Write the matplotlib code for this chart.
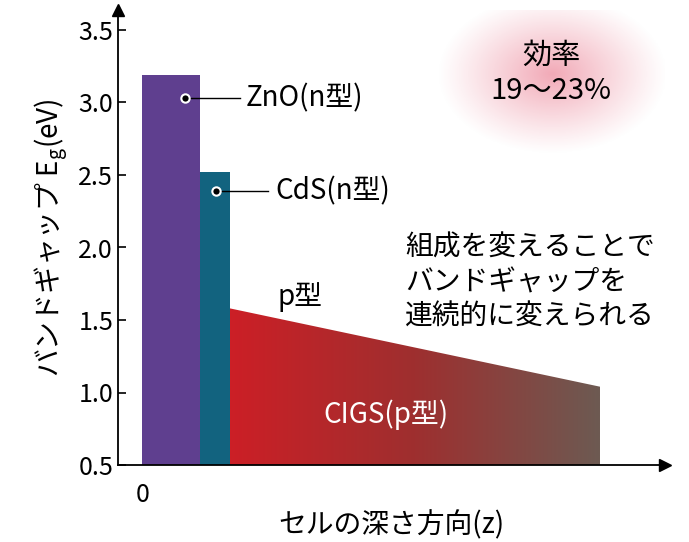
import matplotlib
matplotlib.use("Agg")
import matplotlib.pyplot as plt
import numpy as np
from matplotlib.colors import LinearSegmentedColormap
from matplotlib.patches import Polygon

plt.rcParams["font.family"] = "Noto Sans CJK JP"

# data (x in arbitrary depth units, y in eV)
LAYERS = ["ZnO", "CdS"]
LAYER_X0 = [24, 82]
LAYER_X1 = [82, 112]
LAYER_EG = [3.19, 2.52]
LAYER_COLORS = ["#5f3f8f", "#12637f"]
CIGS_X = [112, 482]
CIGS_EG = [1.58, 1.04]
YTICKS = [0.5, 1.0, 1.5, 2.0, 2.5, 3.0, 3.5]

W, H = 689, 542
fig = plt.figure(figsize=(W / 100, H / 100), dpi=100)
ax = fig.add_axes([118 / W, 1 - 465 / H, 547 / W, 455 / H])
ymin, ymax = 0.5, 3.5 + 20 / 145
ax.set_xlim(0, 547)
ax.set_ylim(ymin, ymax)

# glow
gx, gy = np.meshgrid(np.linspace(0, 547, 300), np.linspace(ymin, ymax, 300))
r = np.sqrt(((gx - 435) / 115) ** 2 + ((gy - 3.2) / 0.55) ** 2)
glow = np.zeros((300, 300, 4))
glow[..., :3] = [0.93, 0.55, 0.62]
glow[..., 3] = np.clip(1 - r, 0, 1) ** 1.1 * 0.75
ax.imshow(glow, extent=[0, 547, ymin, ymax], origin="lower", aspect="auto", zorder=0)

for x0, x1, eg, c in zip(LAYER_X0, LAYER_X1, LAYER_EG, LAYER_COLORS):
    ax.bar(x0, eg - ymin, width=x1 - x0, bottom=ymin, align="edge", color=c, zorder=2)

cmap = LinearSegmentedColormap.from_list("cigs", ["#cc1f26", "#9e2f2f", "#6d5a52"])
grad = np.linspace(0, 1, 256).reshape(1, -1)
im = ax.imshow(grad, cmap=cmap, extent=[CIGS_X[0], CIGS_X[1], ymin, max(CIGS_EG)],
               aspect="auto", zorder=2)
poly = Polygon([(CIGS_X[0], ymin), (CIGS_X[0], CIGS_EG[0]), (CIGS_X[1], CIGS_EG[1]),
                (CIGS_X[1], ymin)], closed=True, transform=ax.transData)
im.set_clip_path(poly)

# callouts
ax.plot([67, 122], [3.03, 3.03], color="black", lw=1, zorder=3)
ax.plot(67, 3.03, "o", ms=6, mfc="black", mec="white", mew=1.5, zorder=4)
ax.text(128, 3.03, "ZnO(n型)", fontsize=20, va="center")
ax.plot([98, 150], [2.39, 2.39], color="black", lw=1, zorder=3)
ax.plot(98, 2.39, "o", ms=6, mfc="black", mec="white", mew=1.5, zorder=4)
ax.text(157, 2.39, "CdS(n型)", fontsize=20, va="center")
ax.text(160, 1.66, "p型", fontsize=20, va="center")
ax.text(205, 0.85, "CIGS(p型)", fontsize=20, va="center", color="white")
ax.text(287, 1.76, "組成を変えることで\nバンドギャップを\n連続的に変えられる",
        fontsize=20, va="center", linespacing=1.2)
ax.text(433, 3.2, "効率\n19～23%", fontsize=21, va="center", ha="center", linespacing=1.2)

for s in ["top", "right"]:
    ax.spines[s].set_visible(False)
ax.spines["left"].set_linewidth(1.3)
ax.spines["bottom"].set_linewidth(1.3)
ax.plot(0, 1, "^k", ms=9, transform=ax.transAxes, clip_on=False)
ax.plot(1, 0, ">k", ms=9, transform=ax.transAxes, clip_on=False)
ax.set_yticks(YTICKS)
ax.set_yticklabels([f"{v:.1f}" for v in YTICKS], fontsize=18)
ax.set_xticks([25])
ax.set_xticklabels(["0"], fontsize=18)
ax.tick_params(axis="x", length=0, pad=12)
ax.tick_params(axis="y", direction="in", length=6, width=1.2)
ax.set_xlabel("セルの深さ方向(z)", fontsize=20, labelpad=2)
ax.set_ylabel("バンドギャップ E$_\\mathregular{g}$(eV)", fontsize=20, labelpad=6)

fig.savefig("out.png", dpi=100)
